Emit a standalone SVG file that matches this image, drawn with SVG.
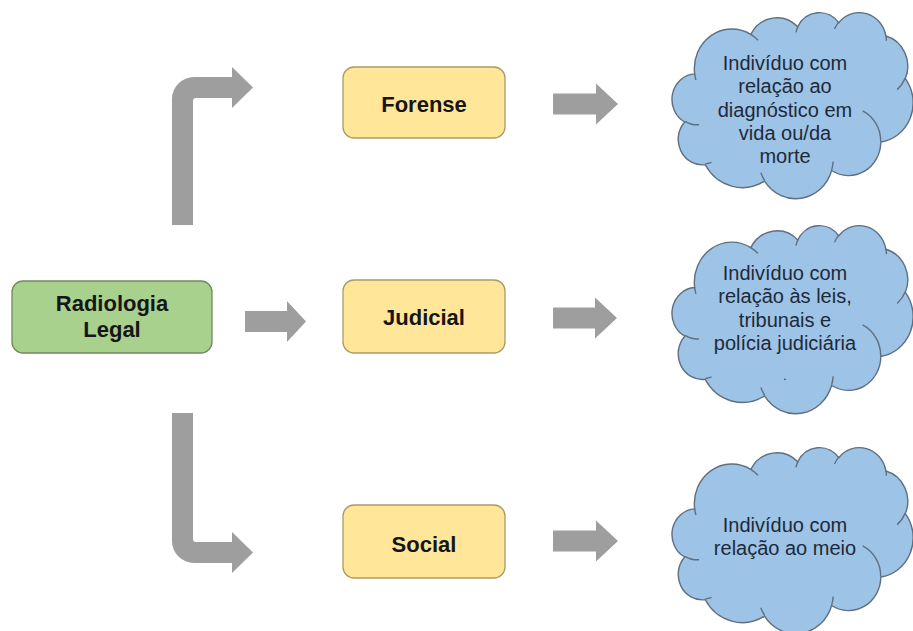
<svg xmlns="http://www.w3.org/2000/svg" xmlns:xlink="http://www.w3.org/1999/xlink" width="913" height="631" viewBox="0 0 913 631">
<style>
.box{stroke-width:1.3}
.yb{fill:#ffe699;stroke:#ad9a66}
.gb{fill:#a9d18e;stroke:#71895f}
.lbl{font-family:"Liberation Sans",Arial,sans-serif;font-weight:bold;font-size:22px;fill:#161616;text-anchor:middle}
.ct{font-family:"Liberation Sans",Arial,sans-serif;font-size:20px;fill:#1d2a3a;text-anchor:middle}
.arr{fill:#9e9e9e}
.cf{fill:#9dc3e6;stroke:#5f6f80;stroke-width:1.4;vector-effect:non-scaling-stroke}
.ci{fill:none;stroke:#5f6f80;stroke-width:1.4;vector-effect:non-scaling-stroke}
</style>
<defs>
<g id="cloud">
<path class="cf" d="M39 143.7 A67.53 91.9 0 0 1 140.06 52.03 A53.33 72.67 0 0 1 224.57 34.33 A43.65 59.45 0 0 1 298.33 24.82 A48.57 65.95 0 0 1 383.19 55.77 A53.33 72.73 0 0 1 418.19 154.61 A67.75 92.2 0 0 1 374.05 302.04 A57.85 78.67 0 0 1 285.57 368.14 A67.52 92.15 0 0 1 164.81 392.65 A77.2 105.43 0 0 1 58.05 354.71 A43.6 59.18 0 0 1 21.14 255.49 A43.45 59.45 0 0 1 39 143.7 Z"/>
<path class="ci" d="M46.93 261.77 A43.45 59.45 0 0 1 21.6 253.8 M69.28 348.99 A43.6 59.18 0 0 1 58.2 352.8 M164.78 390.9 A67.52 92.15 0 0 1 158.1 373.5 M288.27 347.51 A67.52 92.15 0 0 1 285.6 366.6 M341.29 229.54 A57.85 78.67 0 0 1 373.8 300.9 M417.98 153.54 A53.33 72.73 0 0 1 403.5 180.3 M383.24 54.26 A48.57 65.95 0 0 1 384 66.9 M290.78 39.52 A48.57 65.95 0 0 1 298.2 23.4 M221.41 47.2 A43.65 59.45 0 0 1 225 33.3 M140 51.92 A67.53 91.9 0 0 1 153 65.4 M41.27 157.89 A67.53 91.9 0 0 1 39 143.7"/>
</g>
</defs>

<g id="connectors">
<path class="arr" d="M172 225 V99 A22 22 0 0 1 194 77 H232 V67 L253 87.5 L232 108 V98 H196 A3 3 0 0 0 193 101 V225 Z"/>
<path class="arr" d="M172 413 H193 V539 A3 3 0 0 0 196 542 H232 V532 L253 552.5 L232 573 V563 H194 A22 22 0 0 1 172 541 Z"/>
<path class="arr" d="M245 311 H287 V301 L306 321.5 L287 342 V332 H245 Z"/>
<path class="arr" d="M553 93.5 H596 V83.5 L618 104 L596 124.5 V114.5 H553 Z"/>
<path class="arr" d="M553 307.5 H595 V297.5 L617 318 L595 338.5 V328.5 H553 Z"/>
<path class="arr" d="M553 530.5 H596 V520.5 L618 541 L596 561.5 V551.5 H553 Z"/>
</g>

<g id="radiologia">
<rect class="box gb" x="12" y="281" width="200" height="72" rx="11"/>
<text class="lbl" x="112" y="311">Radiologia</text>
<text class="lbl" x="112" y="337">Legal</text>
</g>

<g id="forense">
<rect class="box yb" x="343" y="67" width="162" height="71" rx="11"/>
<text class="lbl" x="424" y="112">Forense</text>
</g>

<g id="judicial">
<rect class="box yb" x="343" y="280" width="162" height="73" rx="11"/>
<text class="lbl" x="424" y="325">Judicial</text>
</g>

<g id="social">
<rect class="box yb" x="343" y="505" width="162" height="73" rx="11"/>
<text class="lbl" x="424" y="552">Social</text>
</g>

<g id="cloud1">
<use xlink:href="#cloud" transform="translate(673,12) scale(0.5556,0.4306)"/>
<text class="ct" x="785" y="70">Indivíduo com</text>
<text class="ct" x="785" y="93">relação ao</text>
<text class="ct" x="785" y="117">diagnóstico em</text>
<text class="ct" x="785" y="140">vida ou/da</text>
<text class="ct" x="785" y="163">morte</text>
</g>

<g id="cloud2">
<use xlink:href="#cloud" transform="translate(673,225) scale(0.5556,0.4352)"/>
<text class="ct" x="785" y="280">Indivíduo com</text>
<text class="ct" x="785" y="303">relação às leis,</text>
<text class="ct" x="785" y="327">tribunais e</text>
<text class="ct" x="785" y="350">polícia judiciária</text>
<text class="ct" x="785" y="380" style="font-size:12px">.</text>
</g>

<g id="cloud3">
<use xlink:href="#cloud" transform="translate(673,447) scale(0.5556,0.4306)"/>
<text class="ct" x="785" y="532">Indivíduo com</text>
<text class="ct" x="785" y="555">relação ao meio</text>
</g>
</svg>
